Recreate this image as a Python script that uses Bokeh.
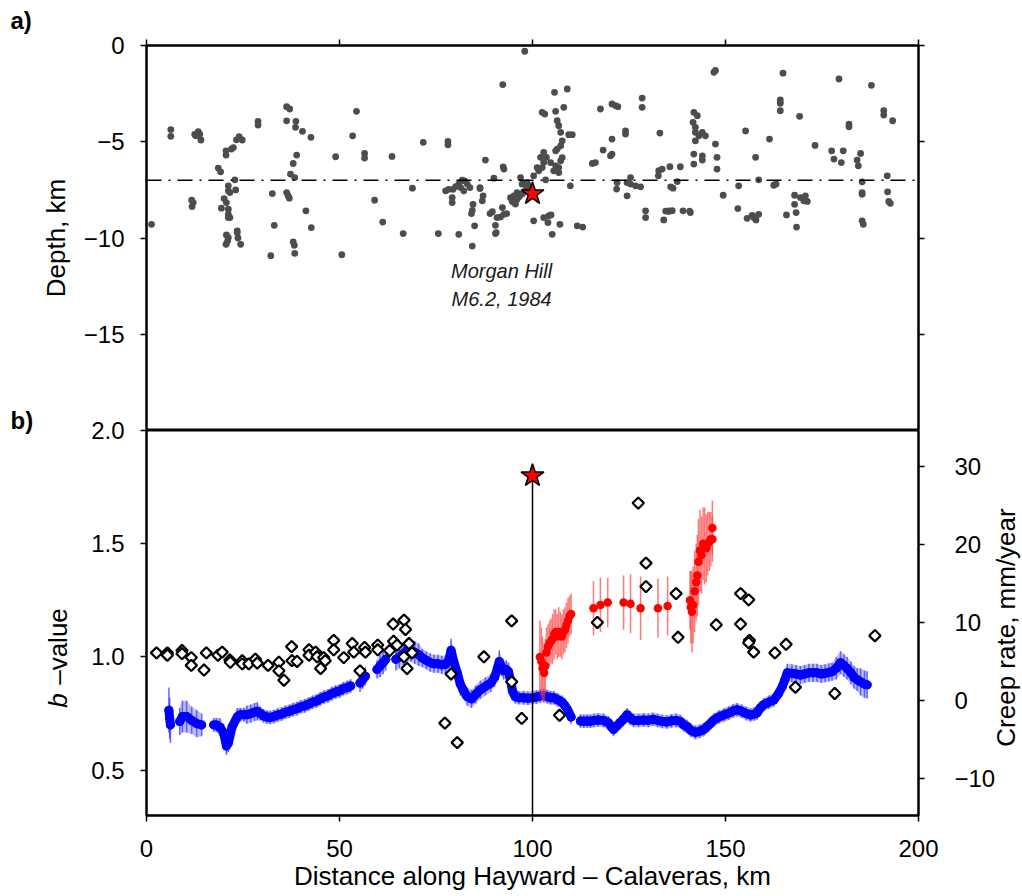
import numpy as np
from bokeh.plotting import figure
from bokeh.models import Range1d, LinearAxis, FixedTicker, Span, Label
from bokeh.layouts import column
from bokeh.embed import file_html
from bokeh.resources import INLINE

FONT = "Liberation Sans"
FS = "24px"
FS_TITLE = "26px"

# ---------------- Panel a: hypocentres (distance km, depth km) ----------------
eq_km = [1.3, 6.3, 6.3, 12.5, 13.4, 13.8, 12.8, 14.1, 11.7, 12.1, 11.8, 18.6, 19.2, 20.6, 20.6, 22.0, 22.5,
         23.3, 24.0, 24.8, 22.9, 21.2, 21.2, 21.6, 23.1, 20.1, 20.7, 19.4, 21.2, 21.2, 21.2, 21.6, 23.5, 23.5,
         20.7, 21.2, 20.6, 21.0, 23.7, 24.4, 28.9, 28.9, 36.3, 37.1, 36.3, 38.7, 38.6, 40.4, 42.6, 38.9, 38.0,
         37.3, 38.4, 32.6, 36.3, 36.7, 37.0, 41.3, 33.1, 42.7, 38.0, 38.3, 38.4, 32.2, 49.0, 50.6,
         54.4, 53.4, 56.5, 56.5, 63.6, 59.1, 61.2, 66.5, 71.7, 78.1, 78.1, 68.9, 75.6, 80.9, 84.4, 85.0, 87.8,
         92.3, 92.4, 92.6, 90.0, 81.8, 82.4, 83.1, 80.9, 81.4, 80.1, 79.4, 78.3, 77.5, 82.2, 83.8, 86.4, 86.4,
         79.2, 79.2, 84.6, 84.4, 84.2, 87.2, 87.0, 89.0, 89.6, 90.8, 91.7, 92.6, 92.2, 93.3, 90.4, 90.4, 90.6,
         94.3, 94.7, 95.2, 96.0, 95.2, 96.0, 95.6, 96.9, 97.3, 98.2, 98.6, 100.3, 100.3, 98.0,
         94.8, 95.9, 96.6, 97.4, 98.1, 98.8, 99.2,
         102.9, 104.2, 104.8, 104.0, 107.1, 105.1, 111.6, 113.0, 109.8, 102.5, 103.2, 105.7, 109.0, 106.0,
         108.1, 106.4, 106.8, 107.3, 107.7, 107.3, 106.4, 106.0, 109.4, 110.3, 102.9, 103.6, 102.1, 102.9,
         102.5, 104.7, 106.0, 106.8, 107.3, 107.7, 105.5, 106.8, 101.2, 101.6, 103.4,
         117.6, 120.6, 121.5, 122.1, 128.4, 128.4, 118.3, 120.6, 124.1, 124.1, 120.2, 120.6, 115.5, 116.3,
         121.9, 121.8, 124.5, 125.4, 124.5, 125.4, 126.7, 128.0, 133.0, 132.7, 132.6, 133.6, 135.6, 138.3,
         135.8, 136.4, 137.5, 129.3, 129.3, 134.0, 135.3, 139.0, 140.9, 141.8, 142.7, 141.6, 142.2, 142.2,
         143.1, 144.0, 144.8, 142.2, 141.8, 141.8, 144.0, 144.0, 147.0, 147.4, 147.4, 147.8, 147.8, 149.4,
         164.9, 164.2, 164.2, 164.2, 169.2, 155.2, 161.4, 157.8, 173.2, 179.4, 182.0, 182.0, 187.8, 191.0,
         191.0, 193.3, 177.5, 178.1, 180.5, 180.0, 185.0, 184.1, 184.4, 191.9, 153.4, 158.6, 162.5, 163.1,
         153.2, 155.6, 156.9, 157.3, 157.9, 158.6, 165.8, 167.9, 167.9, 169.4, 170.7, 171.2, 170.3, 168.3,
         168.4, 185.4, 185.4, 185.4, 185.4, 185.7, 192.0, 192.3, 192.7, 134.5, 135.3, 136.2, 140.7]
eq_depth = [-9.29, -4.37, -4.72, -4.62, -4.48, -4.60, -4.69, -4.91, -8.04, -8.16, -8.37, -6.37, -6.56, -5.47,
            -5.69, -5.38, -5.30, -4.90, -4.74, -4.91, -6.98, -7.29, -7.55, -7.64, -7.50, -7.95, -8.16, -8.45,
            -8.50, -8.77, -8.94, -8.94, -9.63, -9.72, -9.84, -9.98, -10.33, -10.16, -10.00, -10.33, -3.94,
            -4.13, -3.18, -3.30, -3.91, -3.94, -4.25, -4.46, -4.77, -5.69, -6.13, -6.68, -6.86, -7.69, -7.64,
            -7.80, -7.93, -8.59, -9.34, -9.46, -10.20, -10.38, -10.80, -10.92, -5.78, -10.87,
            -3.42, -4.69, -5.61, -5.85, -5.76, -8.04, -9.17, -9.77, -5.03, -4.98, -5.16, -7.41, -9.77, -9.81,
            -10.42, -9.37, -5.95, -2.03, -6.30, -6.42, -6.89, -7.00, -7.03, -7.20, -7.20, -7.38, -7.33, -7.47,
            -7.47, -7.55, -7.55, -7.38, -7.38, -7.43, -7.90, -8.16, -8.25, -8.56, -8.73, -7.81, -8.07, -8.73,
            -8.63, -8.94, -8.91, -8.77, -8.42, -8.73, -9.34, -9.77, -9.72, -7.90, -8.07, -8.16, -7.99, -7.81,
            -7.64, -8.24, -6.86, -7.20, -7.24, -7.12, -6.77, -9.11, -0.30,
            -8.10, -7.95, -7.85, -7.70, -7.55, -7.45, -7.30,
            -8.94, -8.85, -8.80, -9.20, -9.29, -9.81, -9.37, -9.43, -7.29, -3.47, -3.56, -2.43, -2.26, -3.42,
            -3.21, -3.91, -4.17, -4.51, -4.95, -5.21, -5.38, -5.47, -4.63, -4.63, -5.55, -5.81, -5.81, -6.08,
            -6.34, -6.08, -6.25, -6.34, -5.99, -5.82, -6.51, -6.60, -6.34, -6.51, -6.98,
            -3.30, -3.04, -3.12, -3.18, -2.73, -3.21, -5.43, -4.86, -4.43, -4.60, -5.73, -5.64, -6.13, -6.08,
            -7.12, -7.46, -7.81, -6.86, -7.12, -7.20, -7.29, -7.34, -4.55, -6.50, -6.77, -6.42, -6.30, -6.30,
            -7.34, -7.41, -7.07, -8.59, -8.94, -9.06, -8.59, -8.59, -8.68, -3.47, -3.65, -3.99, -4.25, -4.51,
            -4.69, -4.51, -4.69, -4.95, -5.64, -6.16, -5.73, -5.95, -1.39, -1.30, -5.12, -5.81, -6.42, -7.78,
            -1.44, -2.83, -3.00, -3.39, -3.68, -4.44, -4.86, -5.81, -5.19, -1.74, -4.08, -4.22, -2.07, -3.38,
            -3.61, -3.91, -5.47, -5.90, -5.47, -6.08, -5.61, -5.95, -6.25, -6.77, -7.29, -6.98, -7.26, -7.20,
            -8.47, -8.98, -8.82, -8.94, -9.06, -8.77, -8.80, -7.78, -8.25, -7.90, -7.81, -8.10, -8.07, -8.68,
            -9.43, -7.08, -7.64, -7.73, -9.11, -9.29, -7.60, -8.10, -8.20, -8.60, -8.62, -8.58, -8.60]

mainshock_km = [100.0]
mainshock_depth = [-7.7]
ref_depth = -7.0
mainshock_b = [1.8]
b_bottom = 0.3

# ---------------- Panel b: b-value along the fault ----------------
blue_km = [5.8, 6.0, 6.2,
           8.6, 9.3, 10.4, 11.7, 13.0, 14.3,
           17.4, 18.1, 19.0, 20.0, 20.7, 21.2, 22.2, 23.5, 24.3, 25.2, 26.0, 27.0, 28.0, 28.7, 29.5, 30.3,
           31.2, 32.0, 33.0, 34.0, 35.0, 36.0, 37.0, 38.0, 39.0, 40.0, 41.0, 42.0, 43.0, 44.0, 45.0, 46.0,
           47.0, 48.0, 49.0, 50.0, 51.0, 52.0, 52.9,
           55.3, 56.0, 56.7,
           59.7, 60.5, 61.3, 62.0,
           64.6, 65.5, 66.6, 67.5, 68.5, 69.5, 70.5, 71.5, 72.5, 73.5, 74.5, 75.5, 76.5, 77.5, 78.4, 78.9,
           79.6, 80.5, 81.3, 82.0, 83.1, 84.2, 85.3, 86.5, 87.8, 89.2, 90.2, 90.9, 91.4, 92.0, 92.5, 93.2,
           93.8, 94.4, 94.8, 95.5, 96.5, 97.7, 98.8, 100.1, 101.0, 102.0, 102.9, 103.8, 104.7, 105.5, 106.6,
           107.7, 108.4, 109.0, 110.0,
           112.4, 113.3, 114.2, 115.0, 115.9, 117.0, 118.4, 119.7, 120.5, 121.0, 121.8, 122.7, 123.6, 124.5,
           125.3, 126.2, 127.5, 128.8, 130.0, 131.2, 132.4, 133.6, 134.8, 136.0, 137.2, 138.3, 139.2, 140.0,
           141.1, 142.2, 143.3, 144.4, 145.7, 147.0, 148.3, 149.6, 150.8, 152.0, 153.0, 154.2, 155.4, 156.5,
           157.4, 158.2, 159.0, 159.9, 161.2, 162.5, 163.6, 164.7, 165.4, 166.0, 167.2, 168.3, 169.4, 170.5,
           171.6, 172.7, 173.7, 174.8, 175.8, 176.8, 177.6, 178.7, 179.8, 180.7, 181.5, 182.5, 183.3, 184.1,
           185.0, 186.0, 186.7]
blue_b = [0.765, 0.73, 0.70,
          0.715, 0.737, 0.737, 0.72, 0.706, 0.70,
          0.70, 0.70, 0.69, 0.665, 0.607, 0.62, 0.693, 0.735, 0.745, 0.745, 0.745, 0.75, 0.757, 0.76, 0.75,
          0.74, 0.735, 0.733, 0.737, 0.744, 0.748, 0.756, 0.76, 0.768, 0.772, 0.78, 0.784, 0.792, 0.80,
          0.805, 0.815, 0.823, 0.828, 0.838, 0.845, 0.85, 0.86, 0.865, 0.872,
          0.885, 0.90, 0.915,
          0.945, 0.96, 0.975, 0.99,
          0.99, 1.0, 1.015, 1.03, 1.03, 1.02, 1.01, 0.995, 0.985, 0.975, 0.97, 0.97, 0.965, 0.968, 0.99,
          1.03, 0.98, 0.93, 0.88, 0.855, 0.825, 0.815, 0.835, 0.855, 0.87, 0.885, 0.91, 0.95, 0.98, 0.955,
          0.94, 0.945, 0.935, 0.89, 0.85, 0.825, 0.82, 0.82, 0.818, 0.82, 0.823, 0.828, 0.83, 0.825, 0.82,
          0.82, 0.81, 0.80, 0.785, 0.77, 0.735,
          0.717, 0.716, 0.717, 0.716, 0.72, 0.722, 0.72, 0.709, 0.69, 0.68, 0.695, 0.71, 0.725, 0.745,
          0.73, 0.72, 0.72, 0.722, 0.72, 0.725, 0.72, 0.715, 0.713, 0.718, 0.72, 0.715, 0.70, 0.693,
          0.675, 0.667, 0.672, 0.68, 0.70, 0.722, 0.735, 0.744, 0.752, 0.762, 0.767, 0.76, 0.75, 0.744,
          0.748, 0.753, 0.775, 0.789, 0.80, 0.81, 0.835, 0.869, 0.90, 0.93, 0.928, 0.925, 0.92, 0.925,
          0.93, 0.93, 0.93, 0.925, 0.928, 0.932, 0.935, 0.95, 0.975, 0.962, 0.95, 0.93, 0.91, 0.90,
          0.89, 0.88, 0.877]
blue_err = [0.10, 0.09, 0.08,
            0.06, 0.07, 0.07, 0.06, 0.06, 0.05,
            0.03, 0.03, 0.04, 0.04, 0.04, 0.04, 0.04, 0.04, 0.03, 0.03, 0.04, 0.04, 0.04, 0.04, 0.03, 0.03,
            0.03, 0.03, 0.03, 0.03, 0.03, 0.03, 0.03, 0.03, 0.03, 0.03, 0.03, 0.03, 0.03, 0.03, 0.03, 0.03,
            0.03, 0.03, 0.03, 0.03, 0.03, 0.03, 0.03,
            0.04, 0.04, 0.04,
            0.04, 0.05, 0.05, 0.05,
            0.05, 0.05, 0.05, 0.05, 0.05, 0.05, 0.05, 0.04, 0.04, 0.04, 0.04, 0.04, 0.04, 0.04, 0.04,
            0.05, 0.05, 0.05, 0.05, 0.04, 0.04, 0.04, 0.04, 0.04, 0.04, 0.04, 0.04, 0.04, 0.05, 0.04,
            0.04, 0.04, 0.04, 0.04, 0.04, 0.03, 0.03, 0.03, 0.03, 0.03, 0.03, 0.03, 0.03, 0.03, 0.03,
            0.03, 0.03, 0.03, 0.03, 0.03, 0.03,
            0.03, 0.03, 0.03, 0.03, 0.03, 0.03, 0.03, 0.03, 0.03, 0.03, 0.03, 0.03, 0.03, 0.03,
            0.03, 0.03, 0.03, 0.03, 0.03, 0.03, 0.03, 0.03, 0.03, 0.03, 0.03, 0.03, 0.03, 0.03,
            0.03, 0.03, 0.03, 0.03, 0.03, 0.03, 0.03, 0.03, 0.03, 0.03, 0.03, 0.03, 0.03, 0.03,
            0.03, 0.03, 0.03, 0.03, 0.03, 0.03, 0.03, 0.04, 0.04, 0.04, 0.04, 0.04, 0.04, 0.04,
            0.04, 0.04, 0.04, 0.04, 0.04, 0.04, 0.04, 0.05, 0.05, 0.05, 0.05, 0.05, 0.05, 0.05,
            0.06, 0.06, 0.06]

red_km = [101.9, 102.3, 102.6, 103.0, 103.3, 103.6, 104.0, 104.4, 104.8, 105.2, 105.6, 106.0, 106.4, 106.8,
          107.2, 107.6, 108.0, 108.4, 108.8, 109.2, 109.6, 110.0,
          115.8, 117.6, 119.5, 123.6, 125.4, 128.0, 132.5, 135.0,
          140.8, 141.0, 141.3, 141.6, 142.0, 142.4, 142.7, 143.0, 143.4, 143.8, 144.2, 144.6, 145.0, 145.4,
          145.8, 146.2, 146.6, 146.6]
red_b = [1.00, 0.98, 0.95, 0.93, 0.96, 1.02, 1.045, 1.06, 1.07, 1.08, 1.10, 1.11, 1.09, 1.11,
         1.10, 1.09, 1.11, 1.12, 1.14, 1.16, 1.18, 1.19,
         1.215, 1.23, 1.24, 1.24, 1.235, 1.215, 1.215, 1.225,
         1.25, 1.22, 1.20, 1.23, 1.29, 1.33, 1.36, 1.42, 1.47, 1.45, 1.50, 1.49, 1.48, 1.50,
         1.51, 1.52, 1.57, 1.52]
red_err = [0.16, 0.15, 0.14, 0.13, 0.12, 0.11, 0.10, 0.10, 0.10, 0.11, 0.11, 0.10, 0.10, 0.11,
           0.10, 0.10, 0.10, 0.10, 0.10, 0.10, 0.09, 0.09,
           0.12, 0.12, 0.11, 0.12, 0.13, 0.14, 0.13, 0.13,
           0.13, 0.16, 0.18, 0.17, 0.18, 0.17, 0.18, 0.19, 0.18, 0.17, 0.16, 0.17, 0.15, 0.14,
           0.13, 0.12, 0.12, 0.10]

creep_km = [2.6, 5.4, 5.4, 9.2, 9.2, 11.6, 11.6, 14.9, 15.5, 18.5, 19.6, 21.6, 21.7, 24.8, 24.8, 26.5, 28.2,
            28.7, 31.5, 34.3, 34.3, 35.6, 37.6, 37.7, 39.0, 42.1, 42.1, 43.8, 44.2, 45.1, 45.9, 46.3, 48.5,
            48.5, 51.1, 53.3, 53.7, 55.3, 56.5, 56.7, 59.9, 59.9, 63.0, 63.9, 64.0, 64.9, 66.7, 67.1, 66.7,
            67.5, 68.0, 68.8, 78.9, 77.3, 80.5, 87.4, 94.6, 94.6, 97.2, 107.0, 116.8, 127.4, 129.4, 129.4,
            137.2, 137.7, 147.6, 153.9, 156.0, 153.9, 156.2, 156.0, 157.3, 162.8, 165.7, 168.1, 178.3, 188.7]
creep_rate = [6.1, 6.1, 5.8, 6.4, 6.0, 5.5, 4.5, 3.9, 6.1, 5.8, 6.2, 5.2, 4.9, 5.1, 4.7, 4.7, 5.3,
              4.8, 4.5, 4.9, 3.8, 2.6, 6.9, 5.1, 5.0, 6.5, 5.8, 6.2, 5.6, 4.1, 5.5, 5.1, 7.7,
              6.5, 5.5, 7.3, 6.2, 3.8, 6.8, 6.2, 7.1, 6.5, 6.4, 9.8, 7.6, 7.1, 10.3, 9.1, 5.6,
              4.1, 7.3, 6.1, 3.4, -2.9, -5.4, 5.6, 10.2, 2.4, -2.3, -1.9, 10.0, 25.3, 17.6, 14.6,
              13.7, 8.1, 9.7, 13.7, 12.9, 9.8, 7.7, 7.4, 6.2, 6.1, 7.2, 1.7, 0.9, 8.3]

x_ticks = [0, 50, 100, 150, 200]
depth_ticks = [0, -5, -10, -15]
b_ticks = [0.5, 1.0, 1.5, 2.0]
creep_ticks = [-10, 0, 10, 20, 30]


def minus(v):
    return f"{v:g}".replace("-", "\u2212")


def style_axis(ax, standoff=16):
    ax.axis_line_color = "black"
    ax.axis_line_width = 2
    ax.major_tick_line_color = "black"
    ax.major_tick_line_width = 1.5
    ax.major_tick_out = 6
    ax.major_tick_in = 0
    ax.minor_tick_line_color = None
    ax.major_label_text_font = FONT
    ax.major_label_text_font_size = FS
    ax.major_label_text_color = "black"
    ax.major_label_standoff = standoff
    ax.axis_label_text_font = FONT
    ax.axis_label_text_font_size = FS_TITLE
    ax.axis_label_text_font_style = "normal"
    ax.axis_label_text_color = "black"


def segments(xs, gap):
    xs = np.asarray(xs)
    breaks = np.where(np.diff(xs) > gap)[0] + 1
    return np.split(np.arange(len(xs)), breaks)


# ---------------- figure a ----------------
p1 = figure(frame_width=772, frame_height=385, x_range=Range1d(0, 200), y_range=Range1d(-20, 0),
            output_backend="svg", toolbar_location=None, x_axis_location="above",
            min_border_left=146, min_border_right=104, min_border_top=45, min_border_bottom=0)
p1.grid.visible = False
p1.outline_line_color = "black"
p1.outline_line_width = 2

style_axis(p1.xaxis[0])
p1.xaxis[0].ticker = FixedTicker(ticks=x_ticks)
p1.xaxis[0].major_label_overrides = {t: "" for t in x_ticks}

style_axis(p1.yaxis[0], standoff=16)
p1.yaxis[0].ticker = FixedTicker(ticks=depth_ticks)
p1.yaxis[0].major_label_overrides = {t: minus(t) for t in depth_ticks}
p1.yaxis[0].axis_label = "Depth, km"
p1.yaxis[0].axis_label_standoff = 10

ra = LinearAxis(ticker=FixedTicker(ticks=depth_ticks))
style_axis(ra)
ra.major_label_overrides = {t: "" for t in depth_ticks}
p1.add_layout(ra, "right")

p1.add_layout(Span(location=ref_depth, dimension="width", line_color="black", line_width=1.5,
                   line_dash="15 7 2 7"))
p1.scatter(eq_km, eq_depth, size=6.8, color="#4d4d4d", line_color=None)
p1.scatter(mainshock_km, mainshock_depth, marker="star", size=24, fill_color="#ff0000",
           line_color="black", line_width=1.5)

p1.add_layout(Label(x=92, y=-11.72, text="Morgan Hill", text_font=FONT, text_font_size="20px",
                    text_font_style="italic", text_align="center", text_baseline="middle",
                    text_color="#1a1a1a"))
p1.add_layout(Label(x=92, y=-13.18, text="M6.2, 1984", text_font=FONT, text_font_size="20px",
                    text_font_style="italic", text_align="center", text_baseline="middle",
                    text_color="#1a1a1a"))

# ---------------- figure b ----------------
p2 = figure(frame_width=772, frame_height=385, x_range=p1.x_range, y_range=Range1d(b_bottom, 2.0),
            output_backend="svg", toolbar_location=None,
            min_border_left=146, min_border_right=104, min_border_top=20, min_border_bottom=81,
            background_fill_color=None, border_fill_color=None)
p2.margin = (-20, 0, 0, 0)
p2.extra_y_ranges = {"creep": Range1d(-14.74, 34.6)}
p2.grid.visible = False
p2.outline_line_color = "black"
p2.outline_line_width = 2

style_axis(p2.xaxis[0], standoff=18)
p2.xaxis[0].ticker = FixedTicker(ticks=x_ticks)
p2.xaxis[0].axis_label = "Distance along Hayward \u2013 Calaveras, km"
p2.xaxis[0].axis_label_standoff = 1

style_axis(p2.yaxis[0], standoff=16)
p2.yaxis[0].ticker = FixedTicker(ticks=b_ticks)
p2.yaxis[0].major_label_overrides = {t: f"{t:.1f}" for t in b_ticks}

cr = LinearAxis(y_range_name="creep", ticker=FixedTicker(ticks=creep_ticks))
style_axis(cr, standoff=30)
cr.major_label_overrides = {t: minus(t) for t in creep_ticks}
p2.add_layout(cr, "right")

bk = np.array(blue_km)
bb = np.array(blue_b)
be = np.array(blue_err)
blue_groups = segments(blue_km, 1.8)
for idx in blue_groups:
    p2.varea(x=bk[idx], y1=bb[idx] - be[idx], y2=bb[idx] + be[idx], fill_color="#3c3cff", fill_alpha=0.35)
p2.segment(x0=bk, y0=bb - be, x1=bk, y1=bb + be, line_color="#3c3cff", line_alpha=0.75, line_width=1.5)
p2.multi_line(xs=[bk[i].tolist() for i in blue_groups], ys=[bb[i].tolist() for i in blue_groups],
              line_color="#0000ff", line_width=9, line_cap="round", line_join="round")
p2.scatter(bk, bb, size=9, color="#0000ff", line_color=None)

rk = np.array(red_km)
rb = np.array(red_b)
re = np.array(red_err)
p2.segment(x0=rk, y0=rb - re, x1=rk, y1=rb + re, line_color="#ff4040", line_alpha=0.7, line_width=1.5)
p2.scatter(rk, rb, size=8.5, color="#ff0000", line_color=None)

p2.segment(x0=mainshock_km, y0=[b_bottom], x1=mainshock_km, y1=mainshock_b, line_color="black",
           line_width=1.5)
p2.scatter(creep_km, creep_rate, y_range_name="creep", marker="square", angle=np.pi / 4, size=8,
           fill_color="white", line_color="black", line_width=2.2)
p2.scatter(mainshock_km, mainshock_b, marker="star", size=24, fill_color="#ff0000",
           line_color="black", line_width=1.5)

# ---------------- transparent overlay for the texts outside the frames ----------------
W, H = 1022, 896
ov = figure(width=W, height=H, x_range=Range1d(0, W), y_range=Range1d(0, H),
            x_axis_location=None, y_axis_location=None, min_border=0,
            output_backend="svg", toolbar_location=None,
            background_fill_color=None, border_fill_color=None, outline_line_color=None)
ov.grid.visible = False
ov.margin = (-H, 0, 0, 0)
ov.frame_align = False


def title_label(x, y, text, size=FS_TITLE, style="normal", align="center", angle=0.0):
    ov.add_layout(Label(x=x, y=y, text=text, text_font=FONT, text_font_size=size,
                        text_font_style=style, text_align=align, text_baseline="middle",
                        text_color="black", angle=angle))


title_label(10, H - 20, "a)", size="24px", style="bold", align="left")
title_label(10, H - 420, "b)", size="24px", style="bold", align="left")
title_label(57, H - 700, "b", style="italic", angle=np.pi / 2)
title_label(57, H - 646, "\u2013value", angle=np.pi / 2)
title_label(1005, H - 627, "Creep rate, mm/year", angle=np.pi / 2)

layout = column(p1, p2, ov, spacing=0)
open("out.html", "w").write(file_html(layout, INLINE))
